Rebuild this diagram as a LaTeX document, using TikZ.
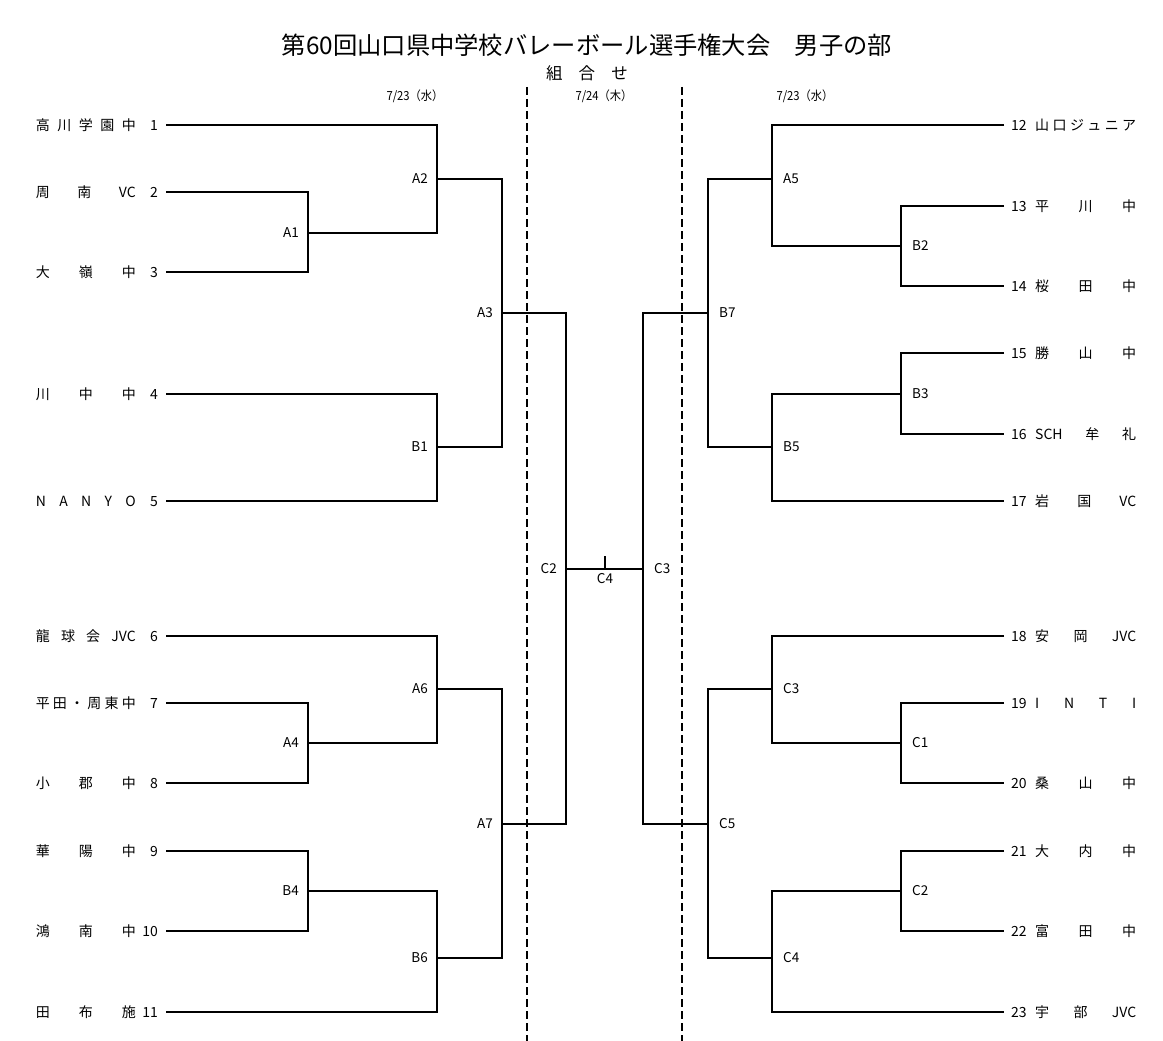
\documentclass[tikz,border=0pt]{standalone}
\usepackage{fontspec}
\setmainfont{Noto Sans CJK JP}
\usetikzlibrary{positioning}
\begin{document}
\begin{tikzpicture}[x=1pt,y=-1pt,
  bracket/.style={line width=1.8pt},
  dayline/.style={line width=1.5pt,dash pattern=on 8pt off 4pt},
  lteam/.style={anchor=east,inner xsep=8pt,inner ysep=0pt,font=\fontsize{14}{16}\selectfont},
  rteam/.style={anchor=west,inner xsep=7pt,inner ysep=0pt,font=\fontsize{14}{16}\selectfont},
  mlabel/.style={inner sep=1pt,font=\fontsize{13.5}{15}\selectfont},
  daylabel/.style={inner sep=0pt,font=\fontsize{12.5}{14}\selectfont}]
\useasboundingbox (0,0) rectangle (1163,1041);
\node (title) at (587,45) {\fontsize{24.3}{28}\selectfont 第60回山口県中学校バレーボール選手権大会\hspace{1em}男子の部};
\node (sub) at (587,73) {\fontsize{16.5}{18}\selectfont\makebox[82pt][s]{組\hfill 合\hfill せ}};
\node[daylabel] (d1) at (415,96) {\scalebox{0.9}[1]{7/23（水）}};
\node[daylabel] (d2) at (604,96) {\scalebox{0.9}[1]{7/24（木）}};
\node[daylabel] (d3) at (805,96) {\scalebox{0.9}[1]{7/23（水）}};
\draw[dayline] (527,87) -- (527,1041);
\draw[dayline] (682,87) -- (682,1041);
\foreach \n/\y/\nm in {1/125/{高\hfill 川\hfill 学\hfill 園\hfill 中},
  2/192/{周\hfill 南\hfill VC}, 3/272/{大\hfill 嶺\hfill 中},
  4/394/{川\hfill 中\hfill 中}, 5/501/{N\hfill A\hfill N\hfill Y\hfill O},
  6/636/{龍\hfill 球\hfill 会\hfill JVC}, 7/703/{平\hfill 田\hfill ・\hfill 周\hfill 東\hfill 中},
  8/783/{小\hfill 郡\hfill 中}, 9/851/{華\hfill 陽\hfill 中},
  10/931/{鴻\hfill 南\hfill 中}, 11/1012/{田\hfill 布\hfill 施}}
  \node[lteam] (t\n) at (166,\y) {\makebox[100pt][s]{\nm}\makebox[22pt][r]{\n}};
\foreach \n/\y/\nm in {12/125/{山\hfill 口\hfill ジ\hfill ュ\hfill ニ\hfill ア},
  13/206/{平\hfill 川\hfill 中}, 14/286/{桜\hfill 田\hfill 中},
  15/353/{勝\hfill 山\hfill 中}, 16/434/{SCH\hfill 牟\hfill 礼},
  17/501/{岩\hfill 国\hfill VC}, 18/636/{安\hfill 岡\hfill JVC},
  19/703/{I\hfill N\hfill T\hfill I}, 20/783/{桑\hfill 山\hfill 中},
  21/851/{大\hfill 内\hfill 中}, 22/931/{富\hfill 田\hfill 中},
  23/1012/{宇\hfill 部\hfill JVC}}
  \node[rteam] (t\n) at (1004,\y) {\makebox[24pt][l]{\n}\makebox[101pt][s]{\nm}};
\coordinate (mA1) at (308,233);
\coordinate (mA2) at (437,179);
\coordinate (mB1) at (437,447);
\coordinate (mA3) at (502,313);
\coordinate (mA4) at (308,743);
\coordinate (mA6) at (437,689);
\coordinate (mB4) at (308,891);
\coordinate (mB6) at (437,958);
\coordinate (mA7) at (502,824);
\coordinate (fC2) at (566,569);
\coordinate (fC4) at (605,569);
\coordinate (fC3) at (643,569);
\coordinate (mB2) at (901,246);
\coordinate (mA5) at (772,179);
\coordinate (mB3) at (901,394);
\coordinate (mB5) at (772,447);
\coordinate (mB7) at (708,313);
\coordinate (rC1) at (901,743);
\coordinate (rC3) at (772,689);
\coordinate (rC2) at (901,891);
\coordinate (rC4) at (772,958);
\coordinate (rC5) at (708,824);
\draw[bracket] (t2.east) -| (mA1) |- (t3.east);
\draw[bracket] (t1.east) -| (mA2) |- (mA1);
\draw[bracket] (t4.east) -| (mB1) |- (t5.east);
\draw[bracket] (mA2) -| (mA3) |- (mB1);
\draw[bracket] (t7.east) -| (mA4) |- (t8.east);
\draw[bracket] (t6.east) -| (mA6) |- (mA4);
\draw[bracket] (t9.east) -| (mB4) |- (t10.east);
\draw[bracket] (mB4) -| (mB6) |- (t11.east);
\draw[bracket] (mA6) -| (mA7) |- (mB6);
\draw[bracket] (mA3) -| (fC2) |- (mA7);
\draw[bracket] (fC2) -- (fC3);
\draw[bracket] (fC4) -- ++(0,-13);
\draw[bracket] (t13.west) -| (mB2) |- (t14.west);
\draw[bracket] (t12.west) -| (mA5) |- (mB2);
\draw[bracket] (t15.west) -| (mB3) |- (t16.west);
\draw[bracket] (mB3) -| (mB5) |- (t17.west);
\draw[bracket] (mA5) -| (mB7) |- (mB5);
\draw[bracket] (t19.west) -| (rC1) |- (t20.west);
\draw[bracket] (t18.west) -| (rC3) |- (rC1);
\draw[bracket] (t21.west) -| (rC2) |- (t22.west);
\draw[bracket] (rC2) -| (rC4) |- (t23.west);
\draw[bracket] (rC3) -| (rC5) |- (rC4);
\draw[bracket] (mB7) -| (fC3) |- (rC5);
\node[mlabel,left=8pt of mA1] (lA1) {A1};
\node[mlabel,left=8pt of mA2] (lA2) {A2};
\node[mlabel,left=8pt of mB1] (lB1) {B1};
\node[mlabel,left=8pt of mA3] (lA3) {A3};
\node[mlabel,left=8pt of mA4] (lA4) {A4};
\node[mlabel,left=8pt of mA6] (lA6) {A6};
\node[mlabel,left=8pt of mB4] (lB4) {B4};
\node[mlabel,left=8pt of mB6] (lB6) {B6};
\node[mlabel,left=8pt of mA7] (lA7) {A7};
\node[mlabel,left=8pt of fC2] (lfC2) {C2};
\node[mlabel,below=3pt of fC4] (lfC4) {C4};
\node[mlabel,right=10pt of fC3] (lfC3) {C3};
\node[mlabel,right=10pt of mB2] (lB2) {B2};
\node[mlabel,right=10pt of mA5] (lA5) {A5};
\node[mlabel,right=10pt of mB3] (lB3) {B3};
\node[mlabel,right=10pt of mB5] (lB5) {B5};
\node[mlabel,right=10pt of mB7] (lB7) {B7};
\node[mlabel,right=10pt of rC1] (lrC1) {C1};
\node[mlabel,right=10pt of rC3] (lrC3) {C3};
\node[mlabel,right=10pt of rC2] (lrC2) {C2};
\node[mlabel,right=10pt of rC4] (lrC4) {C4};
\node[mlabel,right=10pt of rC5] (lrC5) {C5};
\end{tikzpicture}
\end{document}
